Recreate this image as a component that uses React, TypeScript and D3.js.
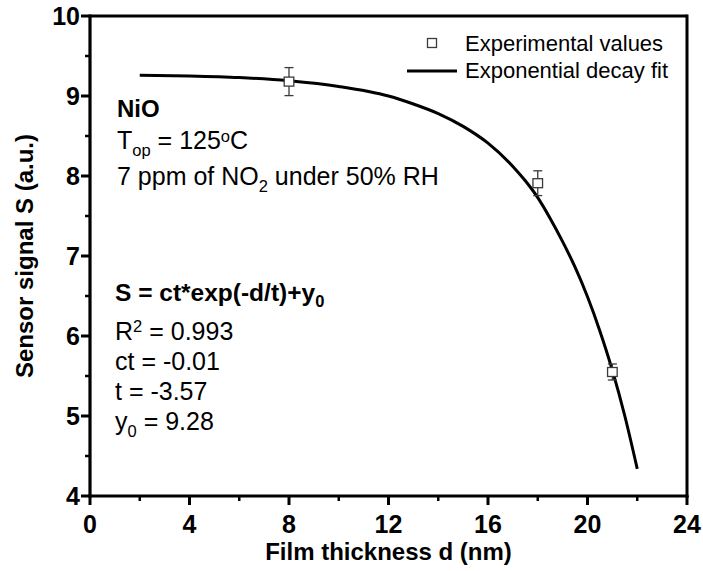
import React from "react";
import * as d3 from "d3";

const thickness = [8, 18, 21];
const signal = [9.18, 7.91, 5.55];
const signalErr = [0.175, 0.155, 0.1];

const fitD = [2, 4, 6, 8, 10, 12, 13, 14, 15, 16, 17, 17.5, 18, 18.5, 19, 19.5, 20, 20.5, 21, 21.5, 22];
const fitS = [9.26, 9.25, 9.23, 9.19, 9.12, 9.0, 8.9, 8.78, 8.62, 8.41, 8.12, 7.94, 7.73, 7.47, 7.18, 6.86, 6.49, 6.06, 5.57, 5.0, 4.34];

const xMajor = [0, 4, 8, 12, 16, 20, 24];
const xMinor = [2, 6, 10, 14, 18, 22];
const yMajor = [4, 5, 6, 7, 8, 9, 10];
const yMinor = [4.5, 5.5, 6.5, 7.5, 8.5, 9.5];

const W = 703;
const H = 571;
const L = 90, R = 687, T = 16, B = 496;
const FONT = "'Liberation Sans', Arial, Helvetica, sans-serif";

export default function App() {
  const x = d3.scaleLinear().domain([0, 24]).range([L, R]);
  const y = d3.scaleLinear().domain([4, 10]).range([B, T]);
  const line = d3
    .line<number>()
    .x((_, i) => x(fitD[i]))
    .y((d) => y(d))
    .curve(d3.curveMonotoneX);
  const pathD = line(fitS) || "";

  return (
    <svg
      width={W}
      height={H}
      style={{ position: "absolute", left: 0, top: 0, background: "#fff" }}
      fontFamily={FONT}
    >
      <rect x={0} y={0} width={W} height={H} fill="#fff" />
      {/* frame */}
      <line x1={L} y1={T} x2={R} y2={T} stroke="#000" strokeWidth={3} />
      <line x1={R} y1={T - 1.5} x2={R} y2={B + 1.5} stroke="#000" strokeWidth={3} />
      <line x1={L} y1={T - 1.5} x2={L} y2={B + 1.5} stroke="#000" strokeWidth={3.2} />
      <line x1={L - 1.5} y1={B} x2={R + 1.5} y2={B} stroke="#000" strokeWidth={3.2} />

      {/* x ticks */}
      {xMajor.map((v) => (
        <g key={"xm" + v}>
          <line x1={x(v)} x2={x(v)} y1={B} y2={B + 9} stroke="#000" strokeWidth={3} />
          <text x={x(v)} y={533} textAnchor="middle" fontSize={25} fontWeight="bold">
            {v}
          </text>
        </g>
      ))}
      {xMinor.map((v) => (
        <line key={"xn" + v} x1={x(v)} x2={x(v)} y1={B} y2={B + 5} stroke="#000" strokeWidth={2.5} />
      ))}
      {/* y ticks */}
      {yMajor.map((v) => (
        <g key={"ym" + v}>
          <line x1={L - 9} x2={L} y1={y(v)} y2={y(v)} stroke="#000" strokeWidth={3} />
          <text x={80} y={y(v) + 9} textAnchor="end" fontSize={25} fontWeight="bold">
            {v}
          </text>
        </g>
      ))}
      {yMinor.map((v) => (
        <line key={"yn" + v} x1={L - 5} x2={L} y1={y(v)} y2={y(v)} stroke="#000" strokeWidth={2.5} />
      ))}

      {/* axis titles */}
      <text x={388.5} y={560} textAnchor="middle" fontSize={24} fontWeight="bold">
        Film thickness d (nm)
      </text>
      <text
        transform={`translate(33, ${(T + B) / 2}) rotate(-90)`}
        textAnchor="middle"
        fontSize={24}
        fontWeight="bold"
      >
        Sensor signal S (a.u.)
      </text>

      {/* fit curve */}
      <path d={pathD} fill="none" stroke="#000" strokeWidth={3} />

      {/* experimental points */}
      {thickness.map((d, i) => {
        const cx = x(d);
        const cy = y(signal[i]);
        const t = y(signal[i] + signalErr[i]);
        const b = y(signal[i] - signalErr[i]);
        return (
          <g key={"p" + i} stroke="#3a3a3a" strokeWidth={1.3}>
            <line x1={cx} x2={cx} y1={t} y2={b} />
            <line x1={cx - 4.5} x2={cx + 4.5} y1={t} y2={t} />
            <line x1={cx - 4.5} x2={cx + 4.5} y1={b} y2={b} />
            <rect x={cx - 4.8} y={cy - 4.5} width={9.6} height={9} fill="#fff" />
          </g>
        );
      })}

      {/* legend */}
      <rect x={427.5} y={38.5} width={9} height={9} fill="#fff" stroke="#3a3a3a" strokeWidth={1.3} />
      <text x={465} y={51} fontSize={22}>
        Experimental values
      </text>
      <line x1={407} x2={457} y1={71} y2={71} stroke="#000" strokeWidth={3} />
      <text x={465} y={78} fontSize={22}>
        Exponential decay fit
      </text>

      {/* annotations */}
      <text x={117} y={117} fontSize={24} fontWeight="bold">
        NiO
      </text>
      <text x={117} y={149} fontSize={25}>
        T
        <tspan fontSize={16.5} dy={7}>op</tspan>
        <tspan dy={-7}> = 125</tspan>
        <tspan fontSize={16.5} dy={-7.5}>o</tspan>
        <tspan dy={7.5}>C</tspan>
      </text>
      <text x={117} y={185} fontSize={25}>
        7 ppm of NO
        <tspan fontSize={16.5} dy={7}>2</tspan>
        <tspan dy={-7}> under 50% RH</tspan>
      </text>
      <text x={115} y={301} fontSize={24.5} fontWeight="bold">
        S = ct*exp(-d/t)+y
        <tspan fontSize={16.5} dy={6}>0</tspan>
      </text>
      <text x={115} y={340} fontSize={25}>
        R
        <tspan fontSize={16.5} dy={-8}>2</tspan>
        <tspan dy={8}> = 0.993</tspan>
      </text>
      <text x={115} y={370} fontSize={25}>
        ct = -0.01
      </text>
      <text x={115} y={400} fontSize={25}>
        t = -3.57
      </text>
      <text x={115} y={430} fontSize={25}>
        y
        <tspan fontSize={16.5} dy={7}>0</tspan>
        <tspan dy={-7}> = 9.28</tspan>
      </text>
    </svg>
  );
}
